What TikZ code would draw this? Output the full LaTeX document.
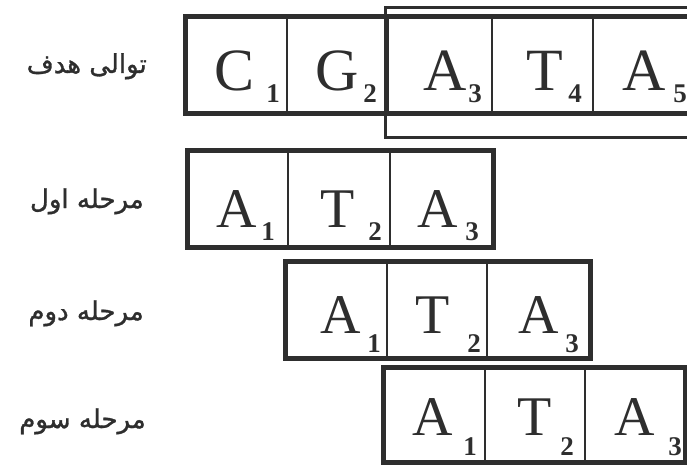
\documentclass[tikz,border=0pt]{standalone}
\usepackage{fontspec}
\setmainfont{Liberation Serif}
\newfontfamily\fa[Script=Arabic,FakeBold=1.2]{DejaVu Sans}
\TeXXeTstate=1
\definecolor{ink}{HTML}{2E2E2E}
\tikzset{
  cellbox/.style={draw=ink, line width=1.8pt, inner sep=0pt, outer sep=0pt, anchor=north west},
  frame/.style={draw=ink, line width=5pt},
  thinframe/.style={draw=ink, line width=2.6pt, inner sep=0pt, anchor=north west},
  bigletter/.style={anchor=base, inner sep=0pt, text=ink, font=\fontsize{56}{56}\selectfont},
  bigletterA/.style={bigletter, font=\fontsize{60}{60}\selectfont},
  subnum/.style={anchor=base, inner sep=0pt, text=ink, font=\bfseries\fontsize{27}{27}\selectfont},
  rowlabel/.style={anchor=base east, inner sep=0pt, text=ink, font=\fa\fontsize{26}{26}\selectfont},
}
\begin{document}
\begin{tikzpicture}[x=1pt,y=-1pt]
\useasboundingbox (0,0) rectangle (687,465);
\clip (0,0) rectangle (687,465);
% row labels
\node[rowlabel] (lab0) at (147,73) {\beginR توالی هدف\endR};
\node[rowlabel] (lab1) at (144,208) {\beginR مرحله اول\endR};
\node[rowlabel] (lab2) at (144,320) {\beginR مرحله دوم\endR};
\node[rowlabel] (lab3) at (146,428) {\beginR مرحله سوم\endR};
% target sequence
\node[thinframe, minimum width=340pt, minimum height=130pt] (window) at (384,6) {};
\foreach \n/\xl/\w/\L/\lx/\s/\sx in {1/185/102/C/235/1/273, 2/287/101/G/337/2/370, 3/388/104/A/445/3/475, 4/492/101/T/545/4/575, 5/593/110/A/644/5/680} {
  \node[cellbox, minimum width=\w pt, minimum height=97pt] (t\n) at (\xl,17) {};
  \node[bigletterA] (tL\n) at (\lx,91) {\L};
  \node[subnum] (tS\n) at (\sx,103) {\s};
}
\draw[frame] (t1.north west) rectangle (t5.south east);
% stage 1
\foreach \n/\xl/\w/\L/\lx/\s/\sx in {1/187/101/A/237/1/268, 2/288/102/T/338/2/375, 3/390/103/A/438/3/472} {
  \node[cellbox, minimum width=\w pt, minimum height=96pt] (a\n) at (\xl,151) {};
  \node[bigletter] (aL\n) at (\lx,227) {\L};
  \node[subnum] (aS\n) at (\sx,240) {\s};
}
\draw[frame] (a1.north west) rectangle (a3.south east);
% stage 2
\foreach \n/\xl/\w/\L/\lx/\s/\sx in {1/285/102/A/341/1/374, 2/387/100/T/433/2/474, 3/487/103/A/539/3/572} {
  \node[cellbox, minimum width=\w pt, minimum height=97pt] (b\n) at (\xl,261) {};
  \node[bigletter] (bL\n) at (\lx,333) {\L};
  \node[subnum] (bS\n) at (\sx,352) {\s};
}
\draw[frame] (b1.north west) rectangle (b3.south east);
% stage 3
\foreach \n/\xl/\w/\L/\lx/\s/\sx in {1/383/102/A/433/1/470, 2/485/100/T/535/2/567, 3/585/100/A/635/3/675} {
  \node[cellbox, minimum width=\w pt, minimum height=95pt] (c\n) at (\xl,367) {};
  \node[bigletter] (cL\n) at (\lx,435) {\L};
  \node[subnum] (cS\n) at (\sx,455) {\s};
}
\draw[frame] (c1.north west) rectangle (c3.south east);
\end{tikzpicture}
\end{document}
